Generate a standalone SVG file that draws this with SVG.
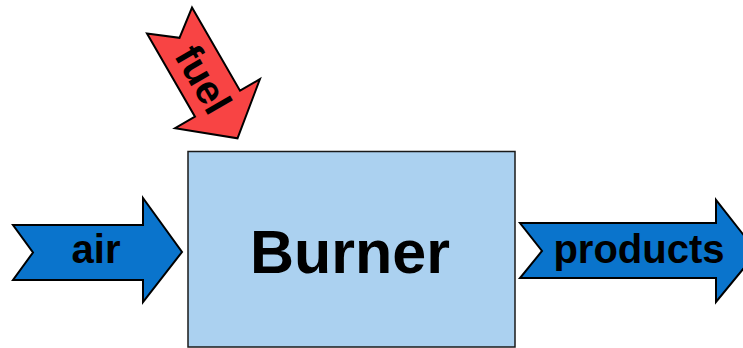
<svg xmlns="http://www.w3.org/2000/svg" width="743" height="348" viewBox="0 0 743 348">
  <style>
    .flow { fill: #0a74cc; stroke: #000; stroke-width: 2; stroke-linejoin: miter; }
    .fuel { fill: #f84444; stroke: #000; stroke-width: 2; stroke-linejoin: miter; }
    .box { fill: #abd1f0; stroke: #1a1a1a; stroke-width: 1.5; }
    .lbl { font-family: "Liberation Sans", Arial, sans-serif; font-weight: bold; fill: #000; text-anchor: middle; }
  </style>
  <rect width="743" height="348" fill="#fff"/>

  <!-- burner block -->
  <g id="burner">
    <rect class="box" x="188" y="151.5" width="327" height="195.5"/>
    <text class="lbl" x="350" y="273" font-size="61">Burner</text>
  </g>

  <!-- flow arrows into and out of the burner -->
  <g id="connectors">
    <g id="air">
      <polygon class="flow" points="13,225 143,225 143,198 182,252 143,302 143,280 13,280 33,252.5"/>
      <text class="lbl" x="96" y="263" font-size="40">air</text>
    </g>
    <g id="fuel" transform="translate(169.5,20.5) rotate(60)">
      <polygon class="fuel" points="0,-26 96,-26 96,-49 136,0 96,49 96,26 0,26 20,0"/>
      <text class="lbl" x="68" y="14" font-size="40">fuel</text>
    </g>
    <g id="products">
      <polygon class="flow" points="520,223 716,223 716,200 757,252 716,302 716,278 520,278 542,251"/>
      <text class="lbl" x="639" y="263" font-size="40">products</text>
    </g>
  </g>
</svg>
